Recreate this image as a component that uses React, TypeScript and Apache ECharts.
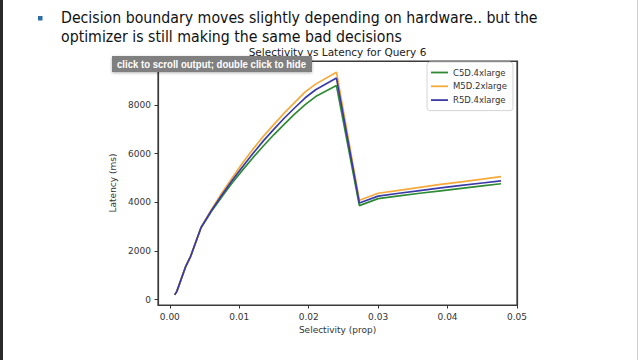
import React, { useEffect, useRef } from "react";
import * as echarts from "echarts";

// Data
const selectivity = [
  0.0007, 0.001, 0.0023, 0.003, 0.0045, 0.006, 0.0075, 0.009, 0.0105, 0.012,
  0.0135, 0.015, 0.0165, 0.018, 0.0195, 0.021, 0.024, 0.0273, 0.03, 0.033,
  0.036, 0.039, 0.042, 0.045, 0.0477,
];
const c5dLatency = [
  200, 330, 1370, 1780, 2950, 3630, 4230, 4800, 5330, 5840, 6320, 6780, 7210,
  7630, 8010, 8340, 8790, 3860, 4150, 4260, 4370, 4470, 4570, 4670, 4760,
];
const m5dLatency = [
  200, 330, 1370, 1780, 2970, 3700, 4380, 5010, 5620, 6190, 6720, 7200, 7670,
  8100, 8530, 8850, 9340, 4080, 4370, 4490, 4610, 4730, 4840, 4950, 5050,
];
const r5dLatency = [
  200, 330, 1370, 1780, 2960, 3660, 4300, 4900, 5470, 6010, 6530, 7000, 7460,
  7880, 8290, 8620, 9100, 3970, 4250, 4370, 4480, 4590, 4690, 4790, 4880,
];
const seriesNames = ["C5D.4xlarge", "M5D.2xlarge", "R5D.4xlarge"];
const seriesColors = ["#2f8a34", "#f6a93b", "#3a3aa8"];
const xTicks = [0, 0.01, 0.02, 0.03, 0.04, 0.05];
const yTicks = [0, 2000, 4000, 6000, 8000];

const chartTitle = "Selectivity vs Latency for Query 6";
const xName = "Selectivity (prop)";
const yName = "Latency (ms)";
const bulletLine1 = "Decision boundary moves slightly depending on hardware.. but the";
const bulletLine2 = "optimizer is still making the same bad decisions";
const tipText = "click to scroll output; double click to hide";

function measure(text: string, font: string): number {
  const ctx = document.createElement("canvas").getContext("2d");
  if (!ctx) return 0;
  ctx.font = font;
  return ctx.measureText(text).width;
}

const X_MIN = -0.0017;
const X_MAX = 0.05;
const Y_MIN = -220;
const Y_MAX = 9800;
const SPINE_COLOR = "#3a3a3a";
const makeSpine = () => ({
  show: true,
  onZero: false,
  lineStyle: { color: SPINE_COLOR, width: 1.2 },
});

export default function App() {
  const ref = useRef<HTMLDivElement>(null);

  useEffect(() => {
    if (!ref.current) return;
    const chart = echarts.init(ref.current, undefined, { renderer: "svg" });

    const slideFont = "DejaVu Sans";
    const slideSize = 16.5;
    const w1 = measure(bulletLine1, `${slideSize}px "${slideFont}"`) || 477;
    const sx = 477 / w1;
    const tipFontStr = `bold 10.5px "Liberation Sans"`;
    const wt = measure(tipText, tipFontStr) || 189;
    const tsx = 189 / wt;

    const lines = [c5dLatency, m5dLatency, r5dLatency];

    chart.setOption({
      animation: false,
      backgroundColor: "#ffffff",
      textStyle: { fontFamily: "DejaVu Sans" },
      grid: {
        left: 158,
        right: 123,
        top: 61,
        bottom: 55,
        show: true,
        borderWidth: 1.2,
        borderColor: SPINE_COLOR,
        backgroundColor: "rgba(0,0,0,0)",
      },
      legend: {
        orient: "vertical",
        left: 427,
        top: 62,
        padding: [6, 6, 6, 4],
        icon: "rect",
        itemWidth: 17,
        itemHeight: 1.8,
        itemGap: 4.8,
        itemTextGap: 5,
        borderColor: "#d4d4d4",
        borderWidth: 1,
        borderRadius: 3,
        backgroundColor: "#fff",
        textStyle: {
          fontSize: 8.5,
          lineHeight: 8,
          color: "#333",
          fontFamily: "DejaVu Sans",
        },
        data: seriesNames,
      },
      xAxis: [
        {
          type: "value",
          min: X_MIN,
          max: X_MAX,
          splitLine: { show: false },
          axisLine: makeSpine(),
          axisTick: {
            show: true,
            length: 3.5,
            customValues: xTicks,
            lineStyle: { color: "#333", width: 1 },
          },
          axisLabel: {
            customValues: xTicks,
            fontSize: 9,
            color: "#333",
            margin: 7,
            formatter: (v: number) => v.toFixed(2),
          },
          name: xName,
          nameLocation: "middle",
          nameGap: 20,
          nameTextStyle: { fontSize: 9, color: "#333" },
        },
        {
          type: "value",
          position: "top",
          min: X_MIN,
          max: X_MAX,
          splitLine: { show: false },
          axisLine: makeSpine(),
          axisTick: { show: false },
          axisLabel: { show: false },
        },
      ],
      yAxis: [
        {
          type: "value",
          min: Y_MIN,
          max: Y_MAX,
          splitLine: { show: false },
          axisLine: makeSpine(),
          axisTick: {
            show: true,
            length: 3.5,
            customValues: yTicks,
            lineStyle: { color: "#333", width: 1 },
          },
          axisLabel: {
            customValues: yTicks,
            fontSize: 9,
            color: "#333",
            margin: 7,
            formatter: (v: number) => String(v),
          },
          name: yName,
          nameLocation: "middle",
          nameGap: 27,
          nameTextStyle: { fontSize: 9, color: "#333" },
        },
        {
          type: "value",
          position: "right",
          min: Y_MIN,
          max: Y_MAX,
          splitLine: { show: false },
          axisLine: makeSpine(),
          axisTick: { show: false },
          axisLabel: { show: false },
        },
      ],
      series: seriesNames.map((name, i) => ({
        name,
        type: "line",
        showSymbol: false,
        symbol: "none",
        color: seriesColors[i],
        lineStyle: { width: 1.7, color: seriesColors[i] },
        data: selectivity.map((x, j) => [x, lines[i][j]]),
        z: 2 + i,
      })),
      graphic: [
        { type: "rect", shape: { x: 0, y: 0, width: 3, height: 360 }, style: { fill: "#2b2b2b" } },
        { type: "rect", shape: { x: 637, y: 0, width: 1, height: 360 }, style: { fill: "#d0d0d0" } },
        { type: "rect", shape: { x: 38, y: 16, width: 4.5, height: 4.5 }, style: { fill: "#2f6ea5" } },
        {
          type: "text",
          x: 61,
          y: 18,
          scaleX: sx,
          style: {
            text: bulletLine1,
            font: `${slideSize}px "${slideFont}"`,
            fill: "#111",
            textVerticalAlign: "middle",
          },
        },
        {
          type: "text",
          x: 61,
          y: 37,
          scaleX: sx,
          style: {
            text: bulletLine2,
            font: `${slideSize}px "${slideFont}"`,
            fill: "#111",
            textVerticalAlign: "middle",
          },
        },
        {
          type: "text",
          x: 337.5,
          y: 52,
          style: {
            text: chartTitle,
            font: `10.5px "DejaVu Sans"`,
            fill: "#222",
            textAlign: "center",
            textVerticalAlign: "middle",
          },
        },
        {
          type: "rect",
          z: 100,
          shape: { x: 112, y: 56, width: 200, height: 16 },
          style: {
            fill: "#808080",
            shadowBlur: 3,
            shadowColor: "rgba(0,0,0,0.3)",
            shadowOffsetY: 1,
          },
        },
        {
          type: "text",
          z: 101,
          x: 117,
          y: 64,
          scaleX: tsx,
          style: {
            text: tipText,
            font: tipFontStr,
            fill: "#ffffff",
            textVerticalAlign: "middle",
          },
        },
      ],
    });

    return () => chart.dispose();
  }, []);

  return (
    <div
      ref={ref}
      style={{ position: "fixed", left: 0, top: 0, width: 640, height: 360 }}
    />
  );
}
